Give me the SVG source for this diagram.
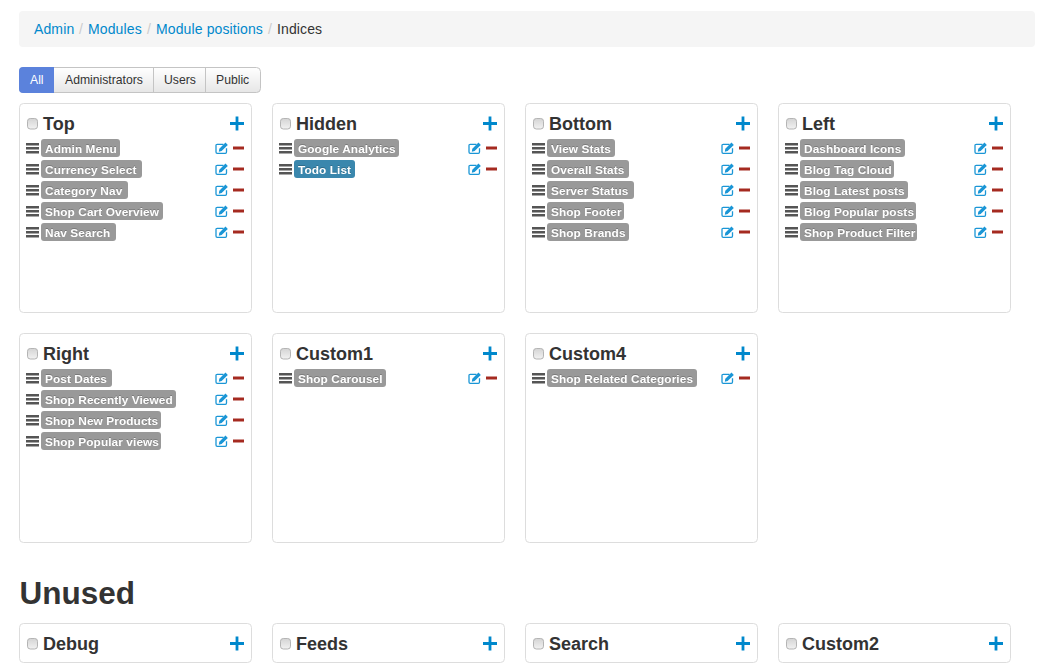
<svg xmlns="http://www.w3.org/2000/svg" width="1043" height="668" viewBox="0 0 1043 668">
<style>
text{font-family:"Liberation Sans",Arial,sans-serif}
.panel{fill:#fff;stroke:#ddd;stroke-width:1}
.title{font-size:18px;font-weight:bold;fill:#333}
.lb{fill:#999}
.lb2{fill:#3a87ad}
.lt{font-size:11.84px;font-weight:bold;fill:#fff;letter-spacing:.09px;filter:drop-shadow(0 -1px 0 rgba(0,0,0,.2))}
.crumb{font-size:14px;fill:#0088cc;letter-spacing:.12px}
.sep{font-size:14px;fill:#ccc}
.btn{font-size:12.200px;fill:#333}
</style>
<defs>
<linearGradient id="gb" x1="0" y1="0" x2="0" y2="1"><stop offset="0" stop-color="#fff"/><stop offset="1" stop-color="#e6e6e6"/></linearGradient>
<linearGradient id="gc" x1="0" y1="0" x2="0" y2="1"><stop offset="0" stop-color="#d4d4d4"/><stop offset="1" stop-color="#f2f2f2"/></linearGradient>
<g id="bars"><path d="M0 0h13v2.600H0zM0 4h13v2.600H0zM0 8h13v2.600H0z" fill="#555"/></g>
<g id="edit"><path d="M8.500 1.800H2.200Q1 1.800 1 3v6.600Q1 10.800 2.200 10.800h8.100q1.200 0 1.200-1.200V5.800" fill="none" stroke="#1a96d6" stroke-width="1.300"/><path d="M4.300 6.300l6.200-6.200 2.300 2.300L6.600 8.600 3.800 9.200z" fill="#1a96d6"/></g>
<path id="minus" d="M0 0h11v3H0z" fill="#a52a20"/>
<path id="plus" d="M5.600 0h2.800v5.600H14v2.800H8.400V14H5.600V8.400H0V5.600h5.600z" fill="#0088cc"/>
<g id="check"><rect x="0.500" y="0.500" width="10" height="10.500" rx="2.800" fill="url(#gc)" stroke="#b4b4b4"/></g>
<g id="row"><use href="#bars" x="0" y="4"/><use href="#edit" x="189" y="3.500"/><use href="#minus" x="207" y="7.500"/></g>
</defs>

<g id="breadcrumb">
<rect x="19" y="11" width="1016" height="36" rx="4" fill="#f5f5f5"/>
<text class="crumb" x="34" y="34">Admin</text><text class="sep" x="79" y="34">/</text>
<text class="crumb" x="88" y="34">Modules</text><text class="sep" x="147" y="34">/</text>
<text class="crumb" x="156" y="34">Module positions</text><text class="sep" x="268" y="34">/</text>
<text x="277" y="34" font-size="14" fill="#333" letter-spacing=".12">Indices</text>
</g>

<g id="filter-buttons">
<rect x="19.500" y="67.500" width="241" height="25" rx="4" fill="url(#gb)" stroke="#c4c4c4"/>
<path d="M23 67h31v26H23q-4 0-4-4V71q0-4 4-4z" fill="#5b82dc"/>
<path d="M153.500 68v25M205.500 68v25" stroke="#c4c4c4" fill="none"/>
<text class="btn" x="30" y="84" style="fill:#fff">All</text>
<text class="btn" x="65" y="84">Administrators</text>
<text class="btn" x="164" y="84">Users</text>
<text class="btn" x="216" y="84">Public</text>
</g>

<g id="panel-top">
<rect class="panel" x="19.500" y="103.500" width="232" height="209" rx="4"/>
<use href="#check" x="27" y="118"/><text class="title" x="43" y="130">Top</text><use href="#plus" x="230" y="116.500"/>
<use href="#row" x="26" y="139"/><rect class="lb" x="41" y="139" width="79" height="18" rx="3"/><text class="lt" x="45" y="153">Admin Menu</text>
<use href="#row" x="26" y="160"/><rect class="lb" x="41" y="160" width="101" height="18" rx="3"/><text class="lt" x="45" y="174">Currency Select</text>
<use href="#row" x="26" y="181"/><rect class="lb" x="41" y="181" width="87" height="18" rx="3"/><text class="lt" x="45" y="195">Category Nav</text>
<use href="#row" x="26" y="202"/><rect class="lb" x="41" y="202" width="122" height="18" rx="3"/><text class="lt" x="45" y="216">Shop Cart Overview</text>
<use href="#row" x="26" y="223"/><rect class="lb" x="41" y="223" width="75" height="18" rx="3"/><text class="lt" x="45" y="237">Nav Search</text>
</g>

<g id="panel-hidden">
<rect class="panel" x="272.500" y="103.500" width="232" height="209" rx="4"/>
<use href="#check" x="280" y="118"/><text class="title" x="296" y="130">Hidden</text><use href="#plus" x="483" y="116.500"/>
<use href="#row" x="279" y="139"/><rect class="lb" x="294" y="139" width="105" height="18" rx="3"/><text class="lt" x="298" y="153">Google Analytics</text>
<use href="#row" x="279" y="160"/><rect class="lb2" x="294" y="160" width="61" height="18" rx="3"/><text class="lt" x="298" y="174">Todo List</text>
</g>

<g id="panel-bottom">
<rect class="panel" x="525.500" y="103.500" width="232" height="209" rx="4"/>
<use href="#check" x="533" y="118"/><text class="title" x="549" y="130">Bottom</text><use href="#plus" x="736" y="116.500"/>
<use href="#row" x="532" y="139"/><rect class="lb" x="547" y="139" width="68" height="18" rx="3"/><text class="lt" x="551" y="153">View Stats</text>
<use href="#row" x="532" y="160"/><rect class="lb" x="547" y="160" width="82" height="18" rx="3"/><text class="lt" x="551" y="174">Overall Stats</text>
<use href="#row" x="532" y="181"/><rect class="lb" x="547" y="181" width="87" height="18" rx="3"/><text class="lt" x="551" y="195">Server Status</text>
<use href="#row" x="532" y="202"/><rect class="lb" x="547" y="202" width="77" height="18" rx="3"/><text class="lt" x="551" y="216">Shop Footer</text>
<use href="#row" x="532" y="223"/><rect class="lb" x="547" y="223" width="82" height="18" rx="3"/><text class="lt" x="551" y="237">Shop Brands</text>
</g>

<g id="panel-left">
<rect class="panel" x="778.500" y="103.500" width="232" height="209" rx="4"/>
<use href="#check" x="786" y="118"/><text class="title" x="802" y="130">Left</text><use href="#plus" x="989" y="116.500"/>
<use href="#row" x="785" y="139"/><rect class="lb" x="800" y="139" width="105" height="18" rx="3"/><text class="lt" x="804" y="153">Dashboard Icons</text>
<use href="#row" x="785" y="160"/><rect class="lb" x="800" y="160" width="94" height="18" rx="3"/><text class="lt" x="804" y="174">Blog Tag Cloud</text>
<use href="#row" x="785" y="181"/><rect class="lb" x="800" y="181" width="108" height="18" rx="3"/><text class="lt" x="804" y="195">Blog Latest posts</text>
<use href="#row" x="785" y="202"/><rect class="lb" x="800" y="202" width="116" height="18" rx="3"/><text class="lt" x="804" y="216">Blog Popular posts</text>
<use href="#row" x="785" y="223"/><rect class="lb" x="800" y="223" width="117" height="18" rx="3"/><text class="lt" x="804" y="237">Shop Product Filter</text>
</g>

<g id="panel-right">
<rect class="panel" x="19.500" y="333.500" width="232" height="209" rx="4"/>
<use href="#check" x="27" y="348"/><text class="title" x="43" y="360">Right</text><use href="#plus" x="230" y="346.500"/>
<use href="#row" x="26" y="369"/><rect class="lb" x="41" y="369" width="71" height="18" rx="3"/><text class="lt" x="45" y="383">Post Dates</text>
<use href="#row" x="26" y="390"/><rect class="lb" x="41" y="390" width="135" height="18" rx="3"/><text class="lt" x="45" y="404">Shop Recently Viewed</text>
<use href="#row" x="26" y="411"/><rect class="lb" x="41" y="411" width="120" height="18" rx="3"/><text class="lt" x="45" y="425">Shop New Products</text>
<use href="#row" x="26" y="432"/><rect class="lb" x="41" y="432" width="120" height="18" rx="3"/><text class="lt" x="45" y="446">Shop Popular views</text>
</g>

<g id="panel-custom1">
<rect class="panel" x="272.500" y="333.500" width="232" height="209" rx="4"/>
<use href="#check" x="280" y="348"/><text class="title" x="296" y="360">Custom1</text><use href="#plus" x="483" y="346.500"/>
<use href="#row" x="279" y="369"/><rect class="lb" x="294" y="369" width="92" height="18" rx="3"/><text class="lt" x="298" y="383">Shop Carousel</text>
</g>

<g id="panel-custom4">
<rect class="panel" x="525.500" y="333.500" width="232" height="209" rx="4"/>
<use href="#check" x="533" y="348"/><text class="title" x="549" y="360">Custom4</text><use href="#plus" x="736" y="346.500"/>
<use href="#row" x="532" y="369"/><rect class="lb" x="547" y="369" width="150" height="18" rx="3"/><text class="lt" x="551" y="383">Shop Related Categories</text>
</g>

<text id="unused-heading" x="19.500" y="604" font-size="31.500" font-weight="bold" fill="#333">Unused</text>

<g id="panel-debug">
<rect class="panel" x="19.500" y="623.500" width="232" height="39" rx="4"/>
<use href="#check" x="27" y="638"/><text class="title" x="43" y="650">Debug</text><use href="#plus" x="230" y="636.500"/>
</g>
<g id="panel-feeds">
<rect class="panel" x="272.500" y="623.500" width="232" height="39" rx="4"/>
<use href="#check" x="280" y="638"/><text class="title" x="296" y="650">Feeds</text><use href="#plus" x="483" y="636.500"/>
</g>
<g id="panel-search">
<rect class="panel" x="525.500" y="623.500" width="232" height="39" rx="4"/>
<use href="#check" x="533" y="638"/><text class="title" x="549" y="650">Search</text><use href="#plus" x="736" y="636.500"/>
</g>
<g id="panel-custom2">
<rect class="panel" x="778.500" y="623.500" width="232" height="39" rx="4"/>
<use href="#check" x="786" y="638"/><text class="title" x="802" y="650">Custom2</text><use href="#plus" x="989" y="636.500"/>
</g>
</svg>
